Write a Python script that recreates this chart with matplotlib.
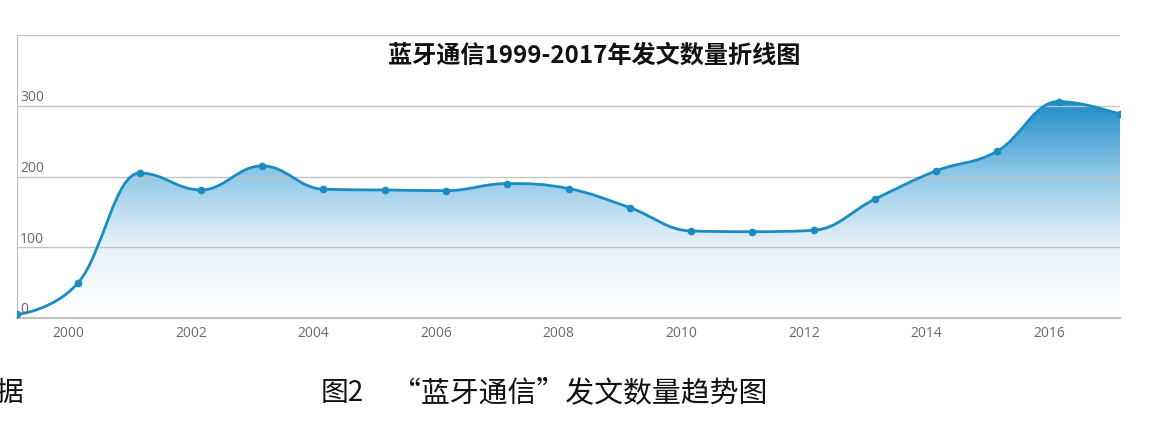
import numpy as np
import matplotlib.pyplot as plt
from matplotlib.path import Path
from matplotlib.patches import PathPatch
from matplotlib.colors import LinearSegmentedColormap

plt.rcParams['font.family'] = ['Noto Sans CJK SC', 'DejaVu Sans']

years = [1999, 2000, 2001, 2002, 2003, 2004, 2005, 2006, 2007, 2008,
         2009, 2010, 2011, 2012, 2013, 2014, 2015, 2016, 2017]
counts = [5, 50, 205, 181, 215, 182, 181, 180, 190, 183,
          156, 123, 122, 124, 168, 208, 236, 306, 288]
tick_years = [2000, 2002, 2004, 2006, 2008, 2010, 2012, 2014, 2016]
y_ticks = [0, 100, 200, 300]
title = "蓝牙通信1999-2017年发文数量折线图"
caption_num = "图2"
caption = "“蓝牙通信”发文数量趋势图"

line_color = "#1a8cc2"


def spline_path(xs, ys, smoothing=1.5):
    # highcharts-style spline control points
    n = len(xs)
    verts = [(xs[0], ys[0])]
    codes = [Path.MOVETO]
    denom = smoothing + 1
    ctrl = []
    for i in range(n):
        x, y = xs[i], ys[i]
        if 0 < i < n - 1:
            px, py = xs[i - 1], ys[i - 1]
            nx, ny = xs[i + 1], ys[i + 1]
            lx = (smoothing * x + px) / denom
            ly = (smoothing * y + py) / denom
            rx = (smoothing * x + nx) / denom
            ry = (smoothing * y + ny) / denom
            corr = (ry - ly) * (rx - x) / (rx - lx) + y - ry
            ly += corr
            ry += corr
            if ly > py and ly > y:
                ly = max(py, y)
                ry = 2 * y - ly
            elif ly < py and ly < y:
                ly = min(py, y)
                ry = 2 * y - ly
            if ry > ny and ry > y:
                ry = max(ny, y)
                ly = 2 * y - ry
            elif ry < ny and ry < y:
                ry = min(ny, y)
                ly = 2 * y - ry
            ctrl.append(((lx, ly), (rx, ry)))
        else:
            ctrl.append(((x, y), (x, y)))
    for i in range(1, n):
        verts += [ctrl[i - 1][1], ctrl[i][0], (xs[i], ys[i])]
        codes += [Path.CURVE4] * 3
    return verts, codes


fig = plt.figure(figsize=(11.5, 4.24), dpi=100)
ax = fig.add_axes([17 / 1150, 106 / 424, 1103 / 1150, 283 / 424])
ax.set_xlim(1999, 2017)
ax.set_ylim(0, 400)

verts, codes = spline_path(years, counts)

# gradient fill under the curve
cmap = LinearSegmentedColormap.from_list("fade", ["#ffffff", "#e6f1f9", "#8cc6e6", "#1a8aca"])
grad = np.linspace(0, 1, 256).reshape(-1, 1)
img = ax.imshow(grad, cmap=cmap, origin="lower", aspect="auto",
                extent=[1999, 2017, 0, 310], zorder=1)
fill_verts = verts + [(years[-1], 0), (years[0], 0), (years[0], counts[0])]
fill_codes = codes + [Path.LINETO, Path.LINETO, Path.CLOSEPOLY]
clip = PathPatch(Path(fill_verts, fill_codes), facecolor="none", edgecolor="none")
ax.add_patch(clip)
img.set_clip_path(clip)

line = PathPatch(Path(verts, codes), facecolor="none", edgecolor=line_color, lw=2, zorder=3)
ax.add_patch(line)
ax.plot(years, counts, "o", color=line_color, ms=4.5, zorder=4)

for v in [100, 200, 300, 400]:
    ax.axhline(v, color="#c4c4c4", lw=1, zorder=2)
for s in ["top", "right"]:
    ax.spines[s].set_visible(False)
ax.spines["left"].set_color("#c0c0c0")
ax.spines["bottom"].set_color("#c0c0c0")
ax.spines["bottom"].set_linewidth(1.5)

ax.set_yticks([])
for v in y_ticks:
    ax.text(1999.05, v + 1, str(v), color="#686868", fontsize=10,
            family="Open Sans", va="bottom", ha="left", zorder=5)

ax.set_xticks([y - 0.16 for y in tick_years])
ax.set_xticklabels([str(y) for y in tick_years], color="#6a6a6a", fontsize=10, family="Open Sans")
ax.tick_params(axis="x", length=0, pad=6)

fig.text(594 / 1150, 1 - 56 / 424, title, ha="center", va="center",
         fontsize=17.4, fontweight="bold", color="#111111")
fig.text(321 / 1150, 1 - 393 / 424, caption_num, ha="left", va="center",
         fontsize=20, color="#111111")
fig.text(392 / 1150, 1 - 393 / 424, caption, ha="left", va="center",
         fontsize=20.8, color="#111111")
fig.text(-5 / 1150, 1 - 393 / 424, "据", ha="left", va="center",
         fontsize=20, color="#111111")

fig.savefig("out.png", dpi=100)
